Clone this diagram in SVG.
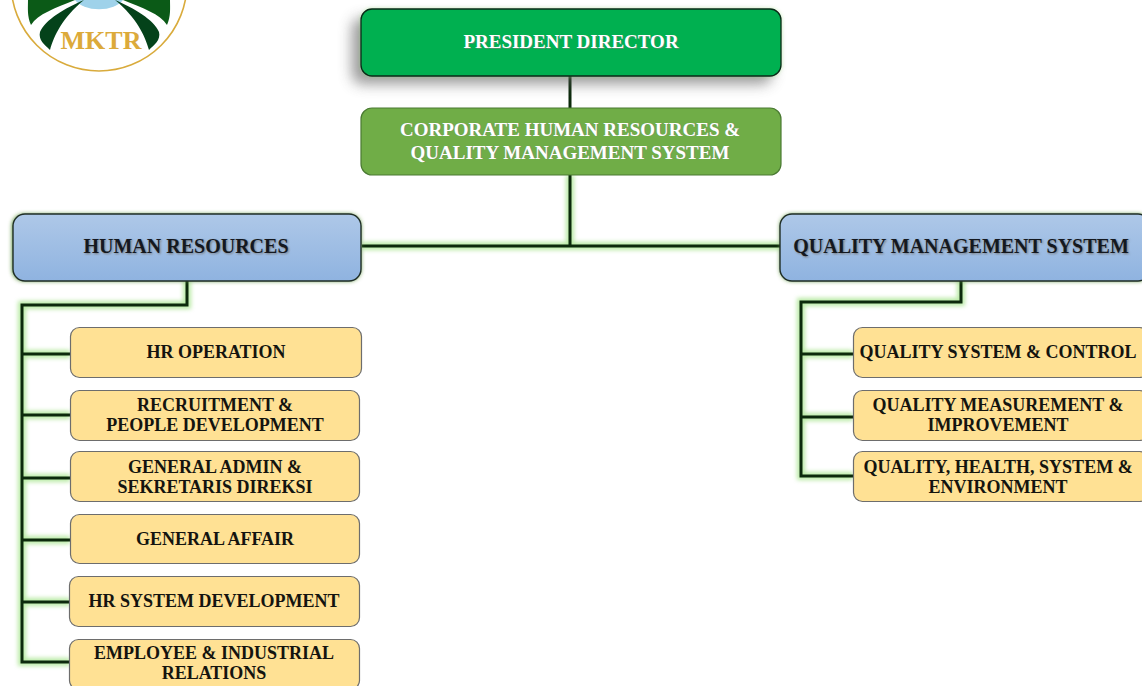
<svg xmlns="http://www.w3.org/2000/svg" width="1142" height="686" viewBox="0 0 1142 686">
<defs>
<linearGradient id="blue" x1="0" y1="0" x2="0" y2="1"><stop offset="0" stop-color="#aec8e8"/><stop offset="1" stop-color="#8fb3e0"/></linearGradient>
<filter id="glow" x="-20%" y="-20%" width="140%" height="140%"><feGaussianBlur stdDeviation="2"/></filter>
<filter id="shadow" x="-20%" y="-40%" width="140%" height="180%"><feGaussianBlur stdDeviation="7"/></filter>
<filter id="tshadow" x="-5%" y="-20%" width="110%" height="140%"><feGaussianBlur stdDeviation="1"/></filter>
<filter id="soft" x="-5%" y="-5%" width="110%" height="110%"><feGaussianBlur stdDeviation="0.5"/></filter>
</defs>
<style>
text{font-family:"Liberation Serif","DejaVu Serif",serif;font-weight:700;text-anchor:middle}
.t{font-size:19px;fill:#fff}
.h{font-size:20px;fill:#14181f}
.b{font-size:18px;fill:#14140f}
.s{font-size:19px;fill:#7d7d7d;opacity:.6}
.ln{fill:none;stroke:#0c2a0c;stroke-width:3;stroke-linejoin:miter}
.lg{fill:none;stroke:#9be27f;stroke-width:8;opacity:.7;filter:url(#glow)}
.y{fill:#ffe194;stroke:#6d6d6d;stroke-width:1.2}
</style>
<rect width="1142" height="686" fill="#fff"/>
<g id="logo">
<circle cx="99" cy="-17" r="88" fill="#fff" stroke="#d9ab3c" stroke-width="1.6"/>
<path d="M75 0 A26 15 0 0 0 123 0Z" fill="#9fd2ea"/>
<path d="M28 0 L75 0 C55 8 38 14 31 25 C27 16 28 8 28 0Z" fill="#0b5a17"/>
<path d="M170 0 L123 0 C143 8 160 14 167 25 C171 16 170 8 170 0Z" fill="#0b5a17"/>
<path d="M84 0 C65 8 45 20 40 32 C38 40 45 45 50 50 C54 36 62 18 84 0Z" fill="#04421a"/>
<path d="M115 0 C134 8 154 20 159 32 C161 40 154 45 149 50 C145 36 137 18 115 0Z" fill="#04421a"/>
<text x="101" y="49" style="font-size:26px;fill:#dcaa3a">MKTR</text>
</g>
<g id="connectors">
<path class="lg" d="M570 175V246M362 246H780M187 281V305H22V662H70M22 354H70M22 415H70M22 478H70M22 540H70M22 602H70M961 281V302H801V476H853M801 354H853M801 417H853"/>
<path class="ln" d="M570 76V108M570 175V246M362 246H780M187 281V305H22V662H70M22 354H70M22 415H70M22 478H70M22 540H70M22 602H70M961 281V302H801V476H853M801 354H853M801 417H853"/>
</g>
<g id="president">
<rect x="352" y="18" width="420" height="66" rx="10" fill="#555" opacity=".6" filter="url(#shadow)"/>
<rect x="361" y="9" width="420" height="67" rx="11" fill="#9be27f" opacity=".7" filter="url(#glow)"/>
<rect x="361" y="9" width="420" height="67" rx="11" fill="#00b050" stroke="#0a2a18" stroke-width="1.3"/>
<text class="s" x="572" y="49">PRESIDENT DIRECTOR</text>
<text class="t" x="571" y="48">PRESIDENT DIRECTOR</text>
</g>
<g id="corporate">
<rect x="361" y="108" width="420" height="67" rx="11" fill="#70ad47" stroke="#4a7a32" stroke-width="1.2"/>
<text class="s" x="571" y="136">CORPORATE HUMAN RESOURCES &amp;</text>
<text class="t" x="570" y="136">CORPORATE HUMAN RESOURCES &amp;</text>
<text class="s" x="571" y="159">QUALITY MANAGEMENT SYSTEM</text>
<text class="t" x="570" y="159">QUALITY MANAGEMENT SYSTEM</text>
</g>
<g id="human-resources">
<rect x="12" y="214" width="349" height="67" rx="12" fill="#4f8a2e" filter="url(#glow)"/>
<rect x="13" y="214" width="348" height="67" rx="12" fill="url(#blue)" stroke="#1f2d26" stroke-width="1.4"/>
<text class="h" x="187" y="254" fill="#777" style="fill:#777" filter="url(#tshadow)">HUMAN RESOURCES</text>
<text class="h" x="186" y="253">HUMAN RESOURCES</text>
</g>
<g id="quality-management">
<rect x="780" y="214" width="370" height="67" rx="12" fill="#4f8a2e" filter="url(#glow)"/>
<rect x="780" y="214" width="370" height="67" rx="12" fill="url(#blue)" stroke="#1f2d26" stroke-width="1.4"/>
<text class="h" x="962" y="254" style="fill:#777" filter="url(#tshadow)">QUALITY MANAGEMENT SYSTEM</text>
<text class="h" x="961" y="253">QUALITY MANAGEMENT SYSTEM</text>
</g>
<g id="hr-operation"><rect class="y" x="70.500" y="327.500" width="291" height="50" rx="9"/><text class="b" x="216" y="358">HR OPERATION</text></g>
<g id="recruitment"><rect class="y" x="70.500" y="390.500" width="289" height="50" rx="9"/><text class="b" x="215" y="411">RECRUITMENT &amp;</text><text class="b" x="215" y="431">PEOPLE DEVELOPMENT</text></g>
<g id="general-admin"><rect class="y" x="70.500" y="451.500" width="289" height="50" rx="9"/><text class="b" x="215" y="473">GENERAL ADMIN &amp;</text><text class="b" x="215" y="493">SEKRETARIS DIREKSI</text></g>
<g id="general-affair"><rect class="y" x="70.500" y="514.500" width="289" height="49" rx="9"/><text class="b" x="215" y="545">GENERAL AFFAIR</text></g>
<g id="hr-system"><rect class="y" x="69.500" y="576.500" width="290" height="50" rx="9"/><text class="b" x="214" y="607">HR SYSTEM DEVELOPMENT</text></g>
<g id="employee"><rect class="y" x="69.500" y="639.500" width="290" height="50" rx="9"/><text class="b" x="214" y="659">EMPLOYEE &amp; INDUSTRIAL</text><text class="b" x="214" y="679">RELATIONS</text></g>
<g id="quality-system"><rect class="y" x="853.500" y="327.500" width="295" height="50" rx="9"/><text class="b" x="998" y="358">QUALITY SYSTEM &amp; CONTROL</text></g>
<g id="quality-measurement"><rect class="y" x="853.500" y="390.500" width="295" height="50" rx="9"/><text class="b" x="998" y="411">QUALITY MEASUREMENT &amp;</text><text class="b" x="998" y="431">IMPROVEMENT</text></g>
<g id="quality-health"><rect class="y" x="853.500" y="451.500" width="295" height="50" rx="9"/><text class="b" x="998" y="473">QUALITY, HEALTH, SYSTEM &amp;</text><text class="b" x="998" y="493">ENVIRONMENT</text></g>
</svg>
